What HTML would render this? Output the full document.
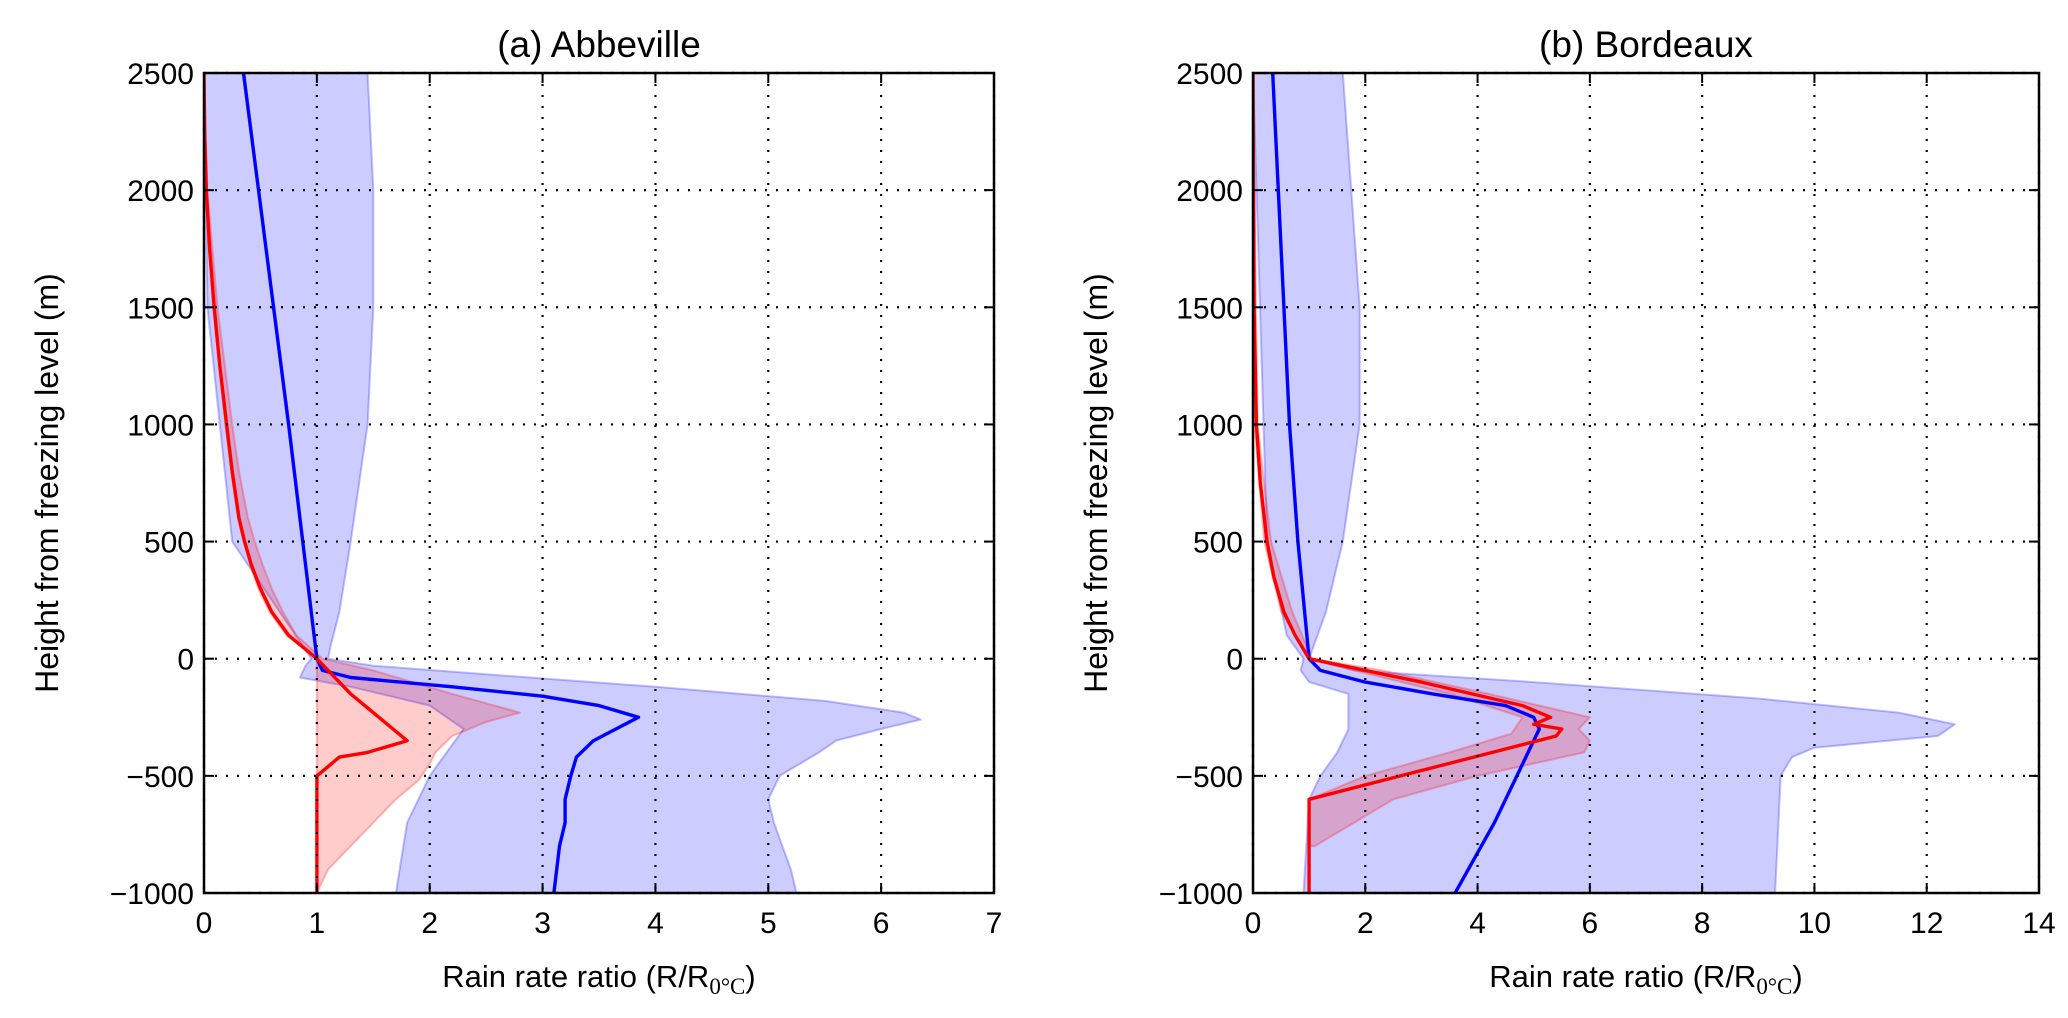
<!DOCTYPE html>
<html><head><meta charset="utf-8">
<style>
html,body{margin:0;padding:0;background:#fff;}
svg{display:block;font-family:"Liberation Sans","DejaVu Sans",sans-serif;}
</style></head>
<body>
<svg id="chart" width="2068" height="1018" viewBox="0 0 2068 1018" xmlns="http://www.w3.org/2000/svg"></svg>
<script>
// ---- data (a) Abbeville ----
const aBlueMedH = [2500,1000,0,-50,-80,-120,-160,-200,-250,-300,-350,-420,-500,-600,-700,-800,-1000];
const aBlueMedX = [0.35,0.75,1.0,1.05,1.3,2.2,3.0,3.5,3.85,3.65,3.45,3.3,3.25,3.2,3.2,3.15,3.1];
const aBlueBandH = [2500,2000,1500,1000,500,200,50,0,-30,-70,-120,-180,-230,-260,-300,-350,-400,-500,-600,-700,-900,-1000,
                    -1000,-700,-500,-400,-300,-200,-120,-80,-30,0,500,1500,2500];
const aBlueBandX = [1.45,1.5,1.5,1.45,1.3,1.2,1.12,1.1,1.5,2.6,4.0,5.5,6.2,6.35,6.0,5.6,5.45,5.1,5.0,5.05,5.2,5.25,
                    1.7,1.8,2.0,2.15,2.3,2.0,1.3,0.85,0.9,0.95,0.25,0.03,0.0];
const aRedMedH = [2500,2250,2000,1750,1500,1250,1000,800,600,500,400,300,200,100,0,-50,-150,-250,-350,-400,-420,-500,-1000];
const aRedMedX = [0.0,0.005,0.02,0.05,0.09,0.14,0.2,0.25,0.31,0.36,0.42,0.5,0.6,0.75,1.0,1.1,1.3,1.55,1.8,1.45,1.2,1.0,1.0];
const aRedBandH = [2500,2000,1500,1000,800,600,500,400,300,200,100,0,-50,-150,-230,-270,-330,-400,-450,-520,-600,-700,-800,-900,-1000,
                   -1000,0,100,200,300,400,500,600,800,1000,1500,2000,2500];
const aRedBandX = [0.0,0.03,0.12,0.25,0.31,0.39,0.45,0.52,0.6,0.7,0.82,1.05,1.5,2.2,2.8,2.5,2.2,2.05,2.0,1.9,1.7,1.5,1.3,1.1,1.0,
                   1.0,1.0,0.73,0.58,0.48,0.41,0.35,0.3,0.24,0.19,0.08,0.02,0.0];
// ---- data (b) Bordeaux ----
const bBlueMedH = [2500,1000,500,0,-50,-100,-150,-200,-250,-300,-400,-500,-700,-1000];
const bBlueMedX = [0.35,0.65,0.8,1.0,1.2,2.0,3.2,4.5,5.0,5.1,4.9,4.7,4.3,3.6];
const bBlueBandH = [2500,1500,1000,500,200,0,-50,-100,-170,-230,-280,-330,-380,-420,-500,-1000,
                    -1000,-600,-500,-400,-300,-150,-100,-50,0,100,500,2500];
const bBlueBandX = [1.6,1.9,1.9,1.6,1.3,1.0,1.8,5.0,9.0,11.5,12.5,12.2,10.0,9.6,9.4,9.3,
                    0.9,1.0,1.2,1.5,1.7,1.7,1.0,0.85,0.9,0.6,0.25,0.0];
const bRedMedH = [2500,1500,1000,750,500,350,200,100,0,-50,-100,-200,-250,-280,-300,-330,-600,-1000];
const bRedMedX = [0.0,0.02,0.06,0.13,0.25,0.37,0.55,0.75,1.0,2.0,3.0,4.8,5.3,5.0,5.5,5.4,1.0,1.0];
const bRedBandH = [2500,1000,500,200,0,-50,-150,-250,-300,-350,-400,-500,-600,-800,
                   -800,-600,-500,-400,-320,-250,-150,-50,0,200,500,1000,2500];
const bRedBandX = [0.0,0.08,0.32,0.7,1.05,2.3,4.2,6.0,5.8,6.0,5.9,4.0,2.5,1.1,
                   1.0,1.0,2.0,3.5,4.6,4.8,3.5,1.8,1.0,0.5,0.2,0.03,0.0];
const yTicks = [2500,2000,1500,1000,500,0,-500,-1000];
const aXTicks = [0,1,2,3,4,5,6,7];
const bXTicks = [0,2,4,6,8,10,12,14];

const NS="http://www.w3.org/2000/svg";
const svg=document.getElementById('chart');
function mk(tag,attrs,parent){const e=document.createElementNS(NS,tag);for(const k in attrs)e.setAttribute(k,attrs[k]);(parent||svg).appendChild(e);return e;}

function panel(id,title,L,R,T,B,xmax,xTicks,bb,rb,bm,rm){
  const g=mk('g',{});
  
  
  const sx=v=>L+(v/xmax)*(R-L);
  const sy=v=>T+(2500-v)/3500*(B-T);
  const clip=mk('clipPath',{id:'clip-'+id},g);
  mk('rect',{x:L,y:T,width:R-L,height:B-T},clip);
  const pts=(xs,hs)=>xs.map((x,i)=>sx(x).toFixed(1)+','+sy(hs[i]).toFixed(1)).join(' ');
  const pg=mk('g',{'clip-path':'url(#clip-'+id+')'},g);
  const p1=mk('polygon',{points:pts(bb[0],bb[1]),fill:'rgba(0,0,255,0.2)',stroke:'rgba(0,0,255,0.25)','stroke-width':2,'stroke-linejoin':'round'},pg);
  
  
  const p2=mk('polygon',{points:pts(rb[0],rb[1]),fill:'rgba(255,0,0,0.2)',stroke:'rgba(255,0,0,0.25)','stroke-width':2,'stroke-linejoin':'round'},pg);
  
  
  xTicks.forEach(t=>{mk('line',{x1:sx(t),x2:sx(t),y1:T,y2:B,stroke:'#000','stroke-width':2.2,'stroke-dasharray':'2,9'},g);});
  yTicks.forEach(t=>{mk('line',{x1:L,x2:R,y1:sy(t),y2:sy(t),stroke:'#000','stroke-width':2.2,'stroke-dasharray':'2,9'},g);});
  const l1=mk('polyline',{points:pts(bm[0],bm[1]),fill:'none',stroke:'#0000ff','stroke-width':3.4,'stroke-linejoin':'round'},pg);
  
  
  const l2=mk('polyline',{points:pts(rm[0],rm[1]),fill:'none',stroke:'#ff0000','stroke-width':3.4,'stroke-linejoin':'round'},pg);
  
  
  mk('rect',{x:L,y:T,width:R-L,height:B-T,fill:'none',stroke:'#000','stroke-width':2.5},g);
  xTicks.forEach(t=>{
    mk('line',{x1:sx(t),x2:sx(t),y1:B,y2:B-10,stroke:'#000','stroke-width':2},g);
    mk('line',{x1:sx(t),x2:sx(t),y1:T,y2:T+10,stroke:'#000','stroke-width':2},g);
    const tx=mk('text',{x:sx(t),y:B+40,'font-size':30,'text-anchor':'middle'},g);tx.textContent=t;
    
    
  });
  yTicks.forEach(t=>{
    mk('line',{x1:L,x2:L+10,y1:sy(t),y2:sy(t),stroke:'#000','stroke-width':2},g);
    mk('line',{x1:R,x2:R-10,y1:sy(t),y2:sy(t),stroke:'#000','stroke-width':2},g);
    const tx=mk('text',{x:L-10,y:sy(t)+11,'font-size':30,'text-anchor':'end'},g);tx.textContent=(t<0?'\u2212'+(-t):t);
    
    
  });
  const ti=mk('text',{x:(L+R)/2,y:T-16,'font-size':37,'text-anchor':'middle'},g);ti.textContent=title;
  
  
  const xl=mk('text',{x:(L+R)/2,y:B+94,'font-size':31,'text-anchor':'middle'},g);
  
  
  xl.innerHTML='Rain rate ratio (R/R<tspan font-family="Liberation Serif, serif" font-size="23" dy="7">0°C</tspan><tspan dy="-7">)</tspan>';
  const yl=mk('text',{x:0,y:0,'font-size':32,'text-anchor':'middle',transform:`translate(${L-146},${(T+B)/2}) rotate(-90)`},g);
  yl.textContent='Height from freezing level (m)';
  
  
}
panel('abbeville','(a) Abbeville',204,994,73,893,7,aXTicks,
  [aBlueBandX,aBlueBandH],[aRedBandX,aRedBandH],[aBlueMedX,aBlueMedH],[aRedMedX,aRedMedH]);
panel('bordeaux','(b) Bordeaux',1253,2039,73,893,14,bXTicks,
  [bBlueBandX,bBlueBandH],[bRedBandX,bRedBandH],[bBlueMedX,bBlueMedH],[bRedMedX,bRedMedH]);
</script>
</body></html>
